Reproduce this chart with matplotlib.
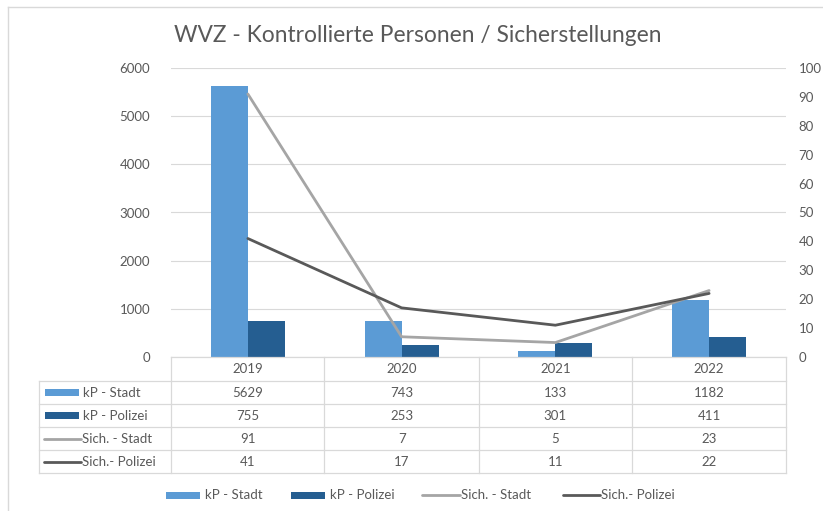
import matplotlib
matplotlib.use("Agg")
import matplotlib.pyplot as plt
from matplotlib.lines import Line2D
from matplotlib.patches import Rectangle
import matplotlib.transforms as mtransforms

plt.rcParams['font.family'] = ['Lato', 'DejaVu Sans']

years = ["2019", "2020", "2021", "2022"]
kp_stadt = [5629, 743, 133, 1182]
kp_polizei = [755, 253, 301, 411]
sich_stadt = [91, 7, 5, 23]
sich_polizei = [41, 17, 11, 22]
series_names = ["kP - Stadt", "kP - Polizei", "Sich. - Stadt", "Sich.- Polizei"]

c_stadt = "#5b9bd5"
c_polizei = "#255e91"
c_l_stadt = "#a5a5a5"
c_l_polizei = "#595959"
grid_c = "#d9d9d9"
text_c = "#595959"

W, H = 823, 511
fig = plt.figure(figsize=(W / 100, H / 100), dpi=100)

def fx(x):
    return x / W

def fy(y):
    return 1 - y / H

# plot area in pixels
L, R, T, B = 171, 786, 68, 357
ax = fig.add_axes([fx(L), fy(B), (R - L) / W, (B - T) / H])
ax2 = ax.twinx()

xs = list(range(len(years)))
bw = 0.24
ax.bar([x - bw / 2 for x in xs], kp_stadt, width=bw, color=c_stadt, zorder=2)
ax.bar([x + bw / 2 for x in xs], kp_polizei, width=bw, color=c_polizei, zorder=2)
ax.set_xlim(-0.5, len(years) - 0.5)
ax.set_ylim(0, 6000)
ax.set_yticks(range(0, 6001, 1000))
ax.yaxis.grid(True, color=grid_c, linewidth=0.8)
ax.set_axisbelow(True)
ax.set_xticks([])

ax2.plot(xs, sich_stadt, color=c_l_stadt, linewidth=2.0, solid_capstyle='round')
ax2.plot(xs, sich_polizei, color=c_l_polizei, linewidth=2.0, solid_capstyle='round')
ax2.set_ylim(0, 100)
ax2.set_yticks(range(0, 101, 10))
ax2.set_xlim(-0.5, len(years) - 0.5)

for a in (ax, ax2):
    for s in a.spines.values():
        s.set_visible(False)
    a.tick_params(axis='y', length=0, labelsize=9.5, labelcolor=text_c)
ax.tick_params(axis='y', pad=15)
ax2.tick_params(axis='y', pad=9)

# title
fig.text(fx(418), fy(35), "WVZ - Kontrollierte Personen / Sicherstellungen",
         ha='center', va='center', fontsize=16.4, color=text_c)

# table
col_edges = [171, 324, 479, 632, 786]
row_edges = [357, 381, 404, 427, 450, 473]
tl = 39

def hline(x0, x1, y):
    fig.add_artist(Line2D([fx(x0), fx(x1)], [fy(y), fy(y)], color=grid_c, linewidth=0.9))

def vline(x, y0, y1):
    fig.add_artist(Line2D([fx(x), fx(x)], [fy(y0), fy(y1)], color=grid_c, linewidth=0.9))

hline(col_edges[0], col_edges[-1], row_edges[0])
for y in row_edges[1:]:
    hline(tl, col_edges[-1], y)
for x in col_edges:
    vline(x, row_edges[0], row_edges[-1])
vline(tl, row_edges[1], row_edges[-1])

blend = mtransforms.blended_transform_factory(ax.transData, fig.transFigure)
rows = [kp_stadt, kp_polizei, sich_stadt, sich_polizei]
for i, yr in enumerate(years):
    yc = (row_edges[0] + row_edges[1]) / 2
    fig.text(i, fy(yc), yr, transform=blend, ha='center', va='center',
             fontsize=9.5, color=text_c)
    for r, vals in enumerate(rows):
        yc = (row_edges[r + 1] + row_edges[r + 2]) / 2
        fig.text(i, fy(yc), str(vals[i]), transform=blend, ha='center', va='center',
                 fontsize=9.5, color=text_c)

def key(kind, color, x0, x1, yc):
    if kind == 'bar':
        fig.add_artist(Rectangle((fx(x0), fy(yc + 3.5)), (x1 - x0) / W, 7 / H,
                                 transform=fig.transFigure, color=color, linewidth=0))
    else:
        fig.add_artist(Line2D([fx(x0), fx(x1)], [fy(yc), fy(yc)], color=color,
                              linewidth=2.0, solid_capstyle='round'))

kinds = ['bar', 'bar', 'line', 'line']
colors = [c_stadt, c_polizei, c_l_stadt, c_l_polizei]
for r in range(4):
    yc = (row_edges[r + 1] + row_edges[r + 2]) / 2
    if kinds[r] == 'bar':
        key('bar', colors[r], 45, 79, yc)
        fig.text(fx(83), fy(yc), series_names[r], ha='left', va='center',
                 fontsize=9.5, color=text_c)
    else:
        key('line', colors[r], 44, 81, yc)
        fig.text(fx(82), fy(yc), series_names[r], ha='left', va='center',
                 fontsize=9.5, color=text_c)

# legend
ly = 495
leg = [(166, 200, 205), (291, 325, 330), (422, 460, 461), (563, 600, 601)]
for r, (x0, x1, xt) in enumerate(leg):
    key(kinds[r], colors[r], x0, x1, ly)
    fig.text(fx(xt), fy(ly), series_names[r], ha='left', va='center',
             fontsize=9.5, color=text_c)

# chart border
fig.add_artist(Line2D([fx(8), fx(8)], [fy(7), 0], color=grid_c, linewidth=1))
fig.add_artist(Line2D([fx(8), 1], [fy(7), fy(7)], color=grid_c, linewidth=1))

fig.savefig("out.png", dpi=100)
